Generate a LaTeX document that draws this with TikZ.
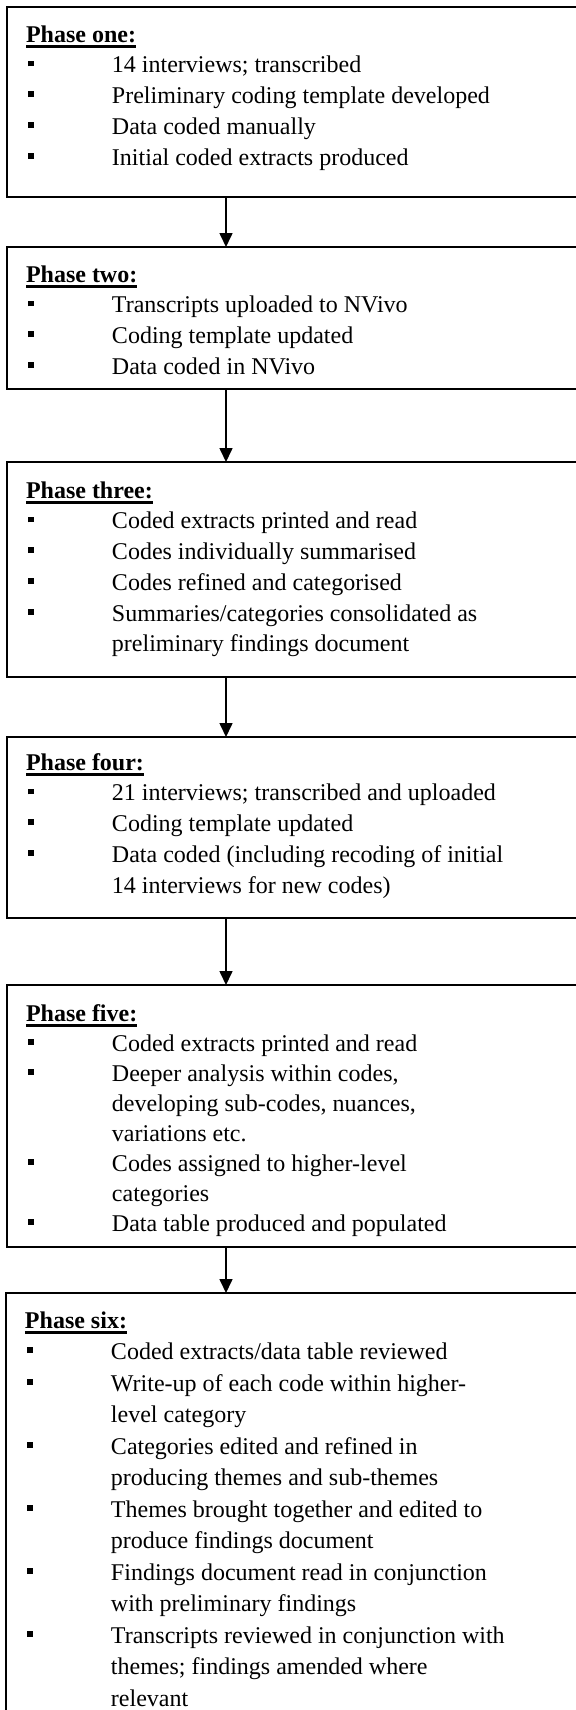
\documentclass[tikz,border=0pt]{standalone}
\usepackage{fontspec}
\setmainfont{Liberation Serif}
\usetikzlibrary{arrows.meta}

% bold heading with a heavy underline
\newcommand\phasehead[1]{\sbox0{\bfseries #1}\usebox0\llap{\rule[-2.8pt]{\wd0}{1.2pt}}}
% square-bulleted item with hanging indent
\newcommand\itm[1]{\par\noindent\hangindent=43pt\hangafter=1\makebox[43pt][l]{\hspace{1.2pt}\rule[3.2pt]{2.9pt}{2.9pt}}#1}
% box body: height, first-baseline drop, line spacing, contents
\newcommand\phasebody[4]{\parbox[t][#1][t]{290pt}{\raggedright\fontsize{12}{#3}\selectfont\rule{0pt}{#2}#4}}

\begin{document}
\begin{tikzpicture}[x=0.5pt,y=-0.5pt,
  phasebox/.style={draw=black,line width=0.7pt,anchor=north west,
    inner xsep=9.5pt,inner ysep=0pt,outer sep=0pt},
  flow/.style={draw=black,line width=0.8pt,-{Triangle[width=6.5pt,length=7pt]}}]
\clip (0,0) rectangle (576,1710);
\fill[white] (0,0) rectangle (576,1710);

\node[phasebox] (p1) at (7,7) {\phasebody{95pt}{17.5pt}{15.375pt}{%
  \phasehead{Phase one:}
  \itm{14 interviews; transcribed}
  \itm{Preliminary coding template developed}
  \itm{Data coded manually}
  \itm{Initial coded extracts produced}}};

\node[phasebox] (p2) at (7,247) {\phasebody{71pt}{17.5pt}{15.375pt}{%
  \phasehead{Phase two:}
  \itm{Transcripts uploaded to NVivo}
  \itm{Coding template updated}
  \itm{Data coded in NVivo}}};

\node[phasebox] (p3) at (7,462) {\phasebody{107.5pt}{18pt}{15.375pt}{%
  \phasehead{Phase three:}
  \itm{Coded extracts printed and read}
  \itm{Codes individually summarised}
  \itm{Codes refined and categorised}
  \itm{Summaries/categories consolidated as\newline preliminary findings document}}};

\node[phasebox] (p4) at (7,737) {\phasebody{90.5pt}{16.5pt}{15.375pt}{%
  \phasehead{Phase four:}
  \itm{21 interviews; transcribed and uploaded}
  \itm{Coding template updated}
  \itm{Data coded (including recoding of initial\newline 14 interviews for new codes)}}};

\node[phasebox] (p5) at (7,985) {\phasebody{131pt}{18pt}{15pt}{%
  \phasehead{Phase five:}
  \itm{Coded extracts printed and read}
  \itm{Deeper analysis within codes,\newline developing sub-codes, nuances,\newline variations etc.}
  \itm{Codes assigned to higher-level\newline categories}
  \itm{Data table produced and populated}}};

\node[phasebox] (p6) at (6,1293) {\phasebody{218.5pt}{17.5pt}{15.75pt}{%
  \phasehead{Phase six:}
  \itm{Coded extracts/data table reviewed}
  \itm{Write-up of each code within higher-\newline level category}
  \itm{Categories edited and refined in\newline producing themes and sub-themes}
  \itm{Themes brought together and edited to\newline produce findings document}
  \itm{Findings document read in conjunction\newline with preliminary findings}
  \itm{Transcripts reviewed in conjunction with\newline themes; findings amended where\newline relevant}}};

% arrows run down a common column
\coordinate (ax) at (226,0);
\draw[flow] (p1.south -| ax) -- (p2.north -| ax);
\draw[flow] (p2.south -| ax) -- (p3.north -| ax);
\draw[flow] (p3.south -| ax) -- (p4.north -| ax);
\draw[flow] (p4.south -| ax) -- (p5.north -| ax);
\draw[flow] (p5.south -| ax) -- (p6.north -| ax);
\end{tikzpicture}
\end{document}
